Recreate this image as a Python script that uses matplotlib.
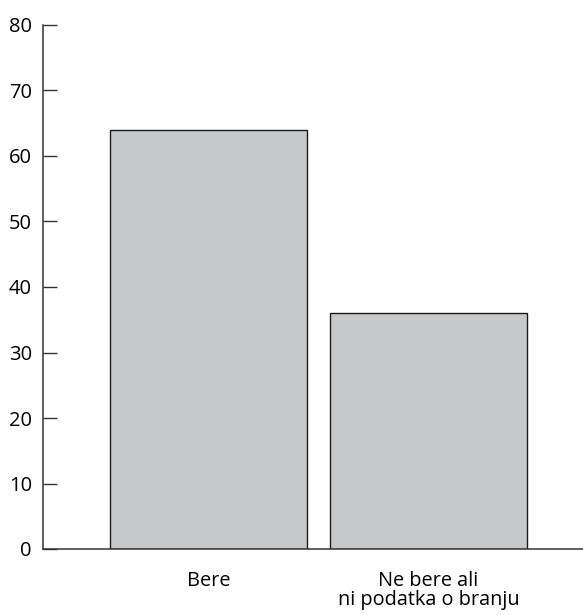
import matplotlib.pyplot as plt

# Data
categories = ['Bere', 'Ne bere ali\nni podatka o branju']
values = [64, 36]
yticks = [0, 10, 20, 30, 40, 50, 60, 70, 80]

plt.rcParams['font.family'] = ['Open Sans', 'DejaVu Sans']

fig = plt.figure(figsize=(5.83, 6.15), dpi=100)
ax = fig.add_axes([43 / 583, 1 - 549 / 615, 540 / 583, 524 / 615])

x = range(len(categories))
ax.bar(x, values, width=0.895, color='#c7c8ca', edgecolor='#1a1a1a', linewidth=1.0, zorder=2)

ax.set_xlim(-0.752, 1.702)
ax.set_ylim(0, 80)
ax.set_yticks(yticks)
ax.set_xticks(list(x))
ax.set_xticklabels(categories, fontsize=14.3, linespacing=0.95)
ax.tick_params(axis='x', length=0, pad=16)
ax.tick_params(axis='y', direction='in', length=10, width=1, labelsize=14.5, pad=8, color='#333333')

for side in ['top', 'right']:
    ax.spines[side].set_visible(False)
ax.spines['left'].set_color('#333333')
ax.spines['bottom'].set_color('#333333')
ax.spines['left'].set_linewidth(1.1)
ax.spines['bottom'].set_linewidth(1.1)

fig.savefig('out.png', dpi=100)
